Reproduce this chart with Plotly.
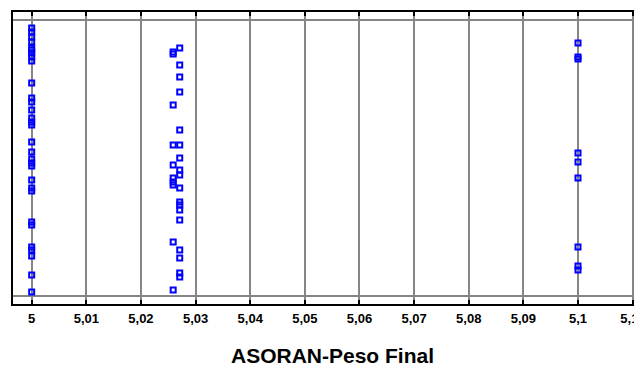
import plotly.graph_objects as go

# Data (y = vertical position in plot units)
x_col1 = 5.0
y_col1 = [276, 272, 267, 262, 256, 254, 251, 247, 243, 221, 206, 202, 194, 186, 182, 179,
          162, 152, 145, 141, 138, 124, 116, 113, 82, 79, 57, 54, 48, 29, 12]
x_col2a = 5.0271
y_col2a = [256, 239, 227, 212, 174, 159, 146, 134, 129, 116, 102, 99, 94, 84, 54, 46, 31, 27]
x_col2b = 5.0259
y_col2b = [252, 250, 199, 159, 139, 126, 122, 119, 62, 14]
x_col3 = 5.1
y_col3 = [261, 247, 245, 151, 142, 126, 57, 38, 34]

tick_vals = [5.00, 5.01, 5.02, 5.03, 5.04, 5.05, 5.06, 5.07, 5.08, 5.09, 5.10, 5.11]
tick_text = ["5", "5,01", "5,02", "5,03", "5,04", "5,05", "5,06", "5,07", "5,08", "5,09", "5,1", "5,11"]
x_range = [4.99658, 5.11318]
y_range = [0, 292]
y_lines = [8, 284]
title_text = "ASORAN-Peso Final"

xs = [x_col1] * len(y_col1) + [x_col2a] * len(y_col2a) + [x_col2b] * len(y_col2b) + [x_col3] * len(y_col3)
ys = y_col1 + y_col2a + y_col2b + y_col3

fig = go.Figure()
fig.add_trace(go.Scatter(
    x=xs, y=ys, mode="markers",
    marker=dict(symbol="square-open", size=5, color="#0000FF", line=dict(width=2, color="#0000FF")),
    showlegend=False, hoverinfo="skip", cliponaxis=False,
))

# page body has an 8px margin: the figure is laid out 8px up/left of the target pixels
fig.update_layout(
    width=642, height=371,
    margin=dict(l=5, r=0, t=4, b=75, autoexpand=False),
    paper_bgcolor="white", plot_bgcolor="white",
    font=dict(family="Liberation Sans, Arial, sans-serif", color="black"),
    xaxis=dict(
        range=x_range, tickvals=tick_vals, ticktext=tick_text,
        showgrid=True, gridcolor="#868686", gridwidth=2,
        showline=True, linecolor="black", linewidth=2, mirror="ticks",
        ticks="inside", ticklen=4, tickwidth=2, tickcolor="black",
        tickfont=dict(size=13, family="Liberation Sans, Arial, sans-serif", weight="bold"),
        ticklabelstandoff=1, zeroline=False, automargin=False,
    ),
    yaxis=dict(
        range=y_range, tickvals=y_lines, showticklabels=False,
        showgrid=True, gridcolor="#868686", gridwidth=2,
        showline=True, linecolor="black", linewidth=2, mirror=False,
        ticks="", zeroline=False, automargin=False,
    ),
    annotations=[dict(
        text="<b>" + title_text + "</b>", xref="paper", yref="paper",
        x=(332.5 - 13) / 637, y=-0.175, xanchor="center", yanchor="middle", showarrow=False,
        font=dict(size=21, family="Liberation Sans, Arial, sans-serif", color="black"),
    )],
)

fig.write_html("out.html")
